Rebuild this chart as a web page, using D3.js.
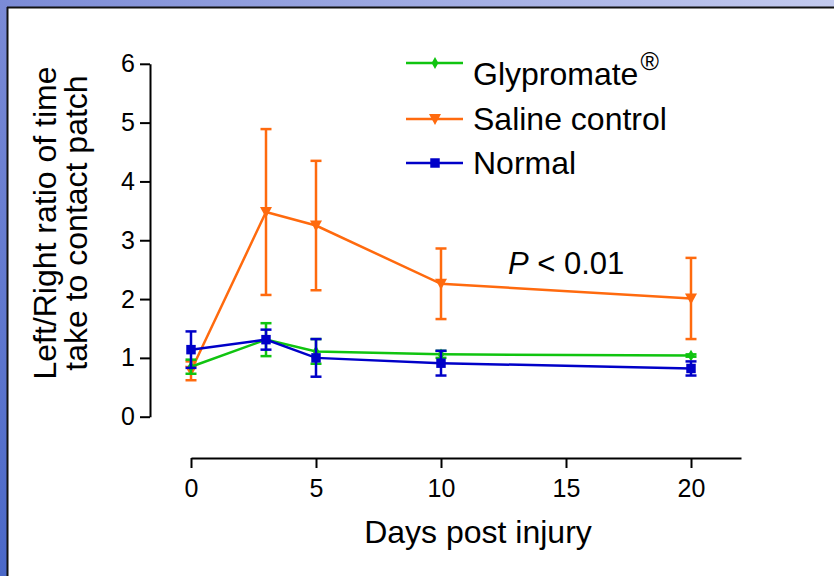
<!DOCTYPE html>
<html><head><meta charset="utf-8">
<script src="https://cdn.jsdelivr.net/npm/d3@7"></script>
<style>html,body{margin:0;padding:0;background:#fff;}svg{display:block;}</style>
</head><body>
<svg id="c" width="834" height="576"></svg>
<script>
const days = [0, 3, 5, 10, 20];
const glyMean = [0.85, 1.31, 1.11, 1.06, 1.04];
const glyErr  = [0.12, 0.28, 0.21, 0.06, 0.02];
const salMean = [0.78, 3.48, 3.25, 2.26, 2.01];
const salErr  = [0.16, 1.41, 1.10, 0.60, 0.69];
const norMean = [1.14, 1.31, 1.00, 0.91, 0.82];
const norErr  = [0.31, 0.17, 0.32, 0.21, 0.12];
const xTicks = [0, 5, 10, 15, 20];
const yTicks = [0, 1, 2, 3, 4, 5, 6];
const seriesNames = ["Glypromate", "Saline control", "Normal"];

const svg = d3.select("#c");
const FONT = "Arial, 'Liberation Sans', Helvetica, sans-serif";

// frame
const defs = svg.append("defs");
const g1 = defs.append("linearGradient").attr("id","topg").attr("x1","0").attr("x2","1").attr("y1","0").attr("y2","0");
g1.append("stop").attr("offset","0").attr("stop-color","#7b8bd6");
g1.append("stop").attr("offset","1").attr("stop-color","#c3caee");
const g2 = defs.append("linearGradient").attr("id","leftg").attr("x1","0").attr("x2","0").attr("y1","0").attr("y2","1");
g2.append("stop").attr("offset","0").attr("stop-color","#7b8bd6");
g2.append("stop").attr("offset","1").attr("stop-color","#4a68c8");
svg.append("rect").attr("x",0).attr("y",0).attr("width",834).attr("height",7).attr("fill","url(#topg)");
svg.append("rect").attr("x",0).attr("y",0).attr("width",7).attr("height",576).attr("fill","url(#leftg)");
svg.append("line").attr("x1",7).attr("x2",834).attr("y1",7.5).attr("y2",7.5).attr("stroke","#111").attr("stroke-width",2);
svg.append("line").attr("x1",7.5).attr("x2",7.5).attr("y1",7).attr("y2",576).attr("stroke","#111").attr("stroke-width",2);

const x = d3.scaleLinear().domain([0, 22]).range([191, 741]);
const y = d3.scaleLinear().domain([0, 6]).range([416.7, 63.8]);

// y axis
const yAxis = svg.append("g").attr("transform","translate(150,0)")
  .call(d3.axisLeft(y).tickValues(yTicks).tickFormat(d3.format("d")).tickSize(10).tickPadding(5).tickSizeOuter(0));
yAxis.select(".domain").attr("stroke","#000").attr("stroke-width",2);
yAxis.selectAll(".tick line").attr("stroke","#000").attr("stroke-width",2);
yAxis.selectAll(".tick text").attr("font-family",FONT).attr("font-size",25).attr("fill","#000");

// x axis
const xAxis = svg.append("g").attr("transform","translate(0,458)")
  .call(d3.axisBottom(x).tickValues(xTicks).tickFormat(d3.format("d")).tickSize(10).tickPadding(11).tickSizeOuter(0));
xAxis.select(".domain").attr("stroke","#000").attr("stroke-width",2);
xAxis.selectAll(".tick line").attr("stroke","#000").attr("stroke-width",2);
xAxis.selectAll(".tick text").attr("font-family",FONT).attr("font-size",25).attr("fill","#000");

// titles
svg.append("text").attr("x",478).attr("y",543).attr("text-anchor","middle")
  .attr("font-family",FONT).attr("font-size",32).attr("fill","#000").text("Days post injury");
const yt = svg.append("text").attr("transform","translate(56,223) rotate(-90)").attr("text-anchor","middle")
  .attr("font-family",FONT).attr("font-size",32).attr("fill","#000");
yt.append("tspan").attr("x",0).attr("dy",0).text("Left/Right ratio of time");
yt.append("tspan").attr("x",0).attr("dy",31).text("take to contact patch");

const series = [
  {name: seriesNames[0], mean: glyMean, err: glyErr, color: "#10c410", shape: d3.symbolDiamond, size: 40},
  {name: seriesNames[1], mean: salMean, err: salErr, color: "#ff6a0e", shape: "tri", size: 0},
  {name: seriesNames[2], mean: norMean, err: norErr, color: "#0000c8", shape: d3.symbolSquare, size: 90}
];

function marker(g, s, cx, cy) {
  if (s.shape === "tri") {
    g.append("path").attr("d", `M${cx-6},${cy-5}L${cx+6},${cy-5}L${cx},${cy+6}Z`).attr("fill", s.color);
  } else {
    g.append("path").attr("transform",`translate(${cx},${cy})`)
      .attr("d", d3.symbol().type(s.shape).size(s.size)()).attr("fill", s.color);
  }
}

const line = d3.line().x(d => x(d[0])).y(d => y(d[1]));
[series[1], series[0], series[2]].forEach(s => {
  const g = svg.append("g");
  const pts = days.map((d,i) => [d, s.mean[i]]);
  g.append("path").attr("d", line(pts)).attr("fill","none").attr("stroke", s.color).attr("stroke-width",2.5);
  days.forEach((d,i) => {
    const cx = x(d), lo = y(s.mean[i]-s.err[i]), hi = y(s.mean[i]+s.err[i]);
    g.append("line").attr("x1",cx).attr("x2",cx).attr("y1",lo).attr("y2",hi).attr("stroke",s.color).attr("stroke-width",2.5);
    g.append("line").attr("x1",cx-5.5).attr("x2",cx+5.5).attr("y1",lo).attr("y2",lo).attr("stroke",s.color).attr("stroke-width",2.5);
    g.append("line").attr("x1",cx-5.5).attr("x2",cx+5.5).attr("y1",hi).attr("y2",hi).attr("stroke",s.color).attr("stroke-width",2.5);
    marker(g, s, cx, y(s.mean[i]));
  });
});

// legend
const legLineY = [63, 119, 163];
const legTextY = [85, 130, 174];
series.forEach((s,i) => {
  svg.append("line").attr("x1",406).attr("x2",463).attr("y1",legLineY[i]).attr("y2",legLineY[i])
    .attr("stroke", s.color).attr("stroke-width",2.5);
  marker(svg, s, 435, legLineY[i]);
  const t = svg.append("text").attr("x",473).attr("y",legTextY[i]).attr("font-family",FONT)
    .attr("font-size",32).attr("fill","#000").text(s.name);
  if (i === 0) t.append("tspan").attr("dx",2).attr("dy",-15).attr("font-size",25).text("®");
});

// p value
const p = svg.append("text").attr("x",508).attr("y",274).attr("font-family",FONT).attr("font-size",31).attr("fill","#000");
p.append("tspan").attr("font-style","italic").text("P");
p.append("tspan").text(" < 0.01");
</script>
</body></html>
